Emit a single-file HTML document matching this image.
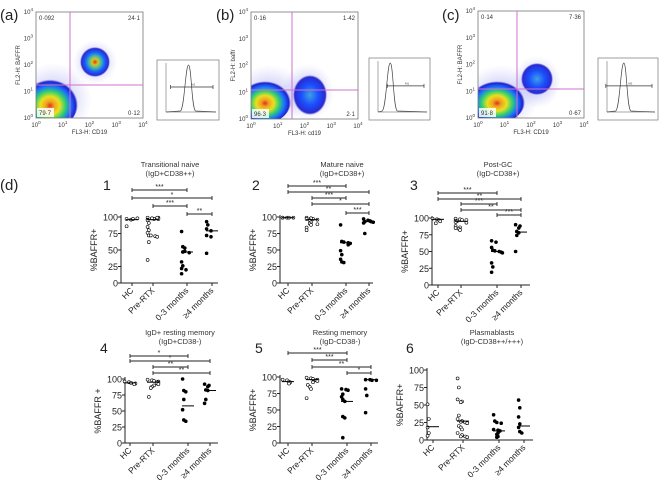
<!DOCTYPE html>
<html><head><meta charset="utf-8"><style>
html,body{margin:0;padding:0;background:#fff;}
svg{display:block;font-family:"Liberation Sans",Arial,sans-serif;}
</style></head><body>
<svg id="fig" width="662" height="480" viewBox="0 0 662 480">
<defs>
<radialGradient id="heat" cx="50%" cy="55%" r="50%">
<stop offset="0" stop-color="#e0301e"/><stop offset="0.15" stop-color="#f0a020"/><stop offset="0.35" stop-color="#e8e020"/><stop offset="0.55" stop-color="#30d070"/><stop offset="0.75" stop-color="#1a70ff"/><stop offset="0.92" stop-color="#2020d0"/><stop offset="1" stop-color="#3030d0" stop-opacity="0"/>
</radialGradient>
<radialGradient id="heat2" cx="50%" cy="50%" r="50%">
<stop offset="0" stop-color="#d04010"/><stop offset="0.2" stop-color="#e0c020"/><stop offset="0.4" stop-color="#40c0a0"/><stop offset="0.65" stop-color="#1a60ff"/><stop offset="0.9" stop-color="#2a2ad0"/><stop offset="1" stop-color="#3030d0" stop-opacity="0"/>
</radialGradient>
<radialGradient id="heat3" cx="50%" cy="50%" r="50%">
<stop offset="0" stop-color="#40a0e0"/><stop offset="0.5" stop-color="#1a50ff"/><stop offset="0.9" stop-color="#2a2ad0"/><stop offset="1" stop-color="#3030d0" stop-opacity="0"/>
</radialGradient>
<radialGradient id="haze" cx="50%" cy="50%" r="50%">
<stop offset="0" stop-color="#5050e0" stop-opacity="0.45"/><stop offset="1" stop-color="#8080f0" stop-opacity="0"/>
</radialGradient>
</defs>
</svg>
<script>
// ---------- Scatter (d) data ----------
const categories = ["HC","Pre-RTX","0-3 months","\u22654 months"];
const p1HC=[97,96,97,98,86], p1Pre=[99,98,97,99,96,98,95,97,99,91,85,80,76,72,72,71,70,62,35], p1M03=[78,55,53,47,48,46,32,26,22,20,14], p1M4=[93,88,82,79,72,70,45];
const p1Med=[96,96,47,79];
const p2HC=[99,99,99,99,99], p2Pre=[99,98,97,96,97,98,95,92,90,88,84,89,80], p2M03=[88,63,62,61,60,58,49,43,36,32,31], p2M4=[97,95,94,93,92,93,91,75];
const p2Med=[99,96,61,93];
const p3HC=[99,98,97,95,92], p3Pre=[99,98,97,97,96,95,94,93,88,86,84,82,85], p3M03=[66,64,56,52,51,50,49,48,33,27,19], p3M4=[90,88,85,80,78,74,50];
const p3Med=[98,95,50,79];
const p4HC=[96,95,94,93,92], p4Pre=[99,98,97,96,95,94,93,92,90,88,86,72], p4M03=[100,82,80,68,52,36,34], p4M4=[92,90,88,83,82,68,62];
const p4Med=[94,95,58,82];
const p5HC=[96,95,93,92,90], p5Pre=[99,98,97,96,95,94,92,88,85,82,68], p5M03=[82,81,80,74,70,66,63,40,38,8], p5M4=[96,96,95,95,82,72,46];
const p5Med=[93,96,63,96];
const p6HC=[51,30,18,10,6], p6Pre=[88,75,58,55,54,35,30,27,26,25,24,20,18,15,10,7,5,5,4], p6M03=[36,27,25,24,15,14,13,10,8,5,4], p6M4=[57,46,33,23,18,12,10];
const p6Med=[19,27,13,20];
const yTicks=[0,25,50,75,100];
const sig1=[[0,2,"***"],[0,3,"*"],[1,2,"***"],[2,3,"**"]];
const sig2=[[0,2,"***"],[0,3,"**"],[1,2,"***"],[1,3,"*"],[2,3,"***"]];
const sig3=[[0,2,"***"],[0,3,"**"],[1,2,"***"],[1,3,"**"],[2,3,"***"]];
const sig4=[[0,2,"*"],[0,3,"*"],[1,2,"**"],[1,3,"**"]];
const sig5=[[0,2,"***"],[1,2,"***"],[1,3,"**"],[2,3,"*"]];
const sig6=[];

const NS="http://www.w3.org/2000/svg";
const svg=document.getElementById('fig');
function mk(tag,attrs,parent,text){const e=document.createElementNS(NS,tag);for(const k in attrs)e.setAttribute(k,attrs[k]);if(text!==undefined)e.textContent=text;(parent||svg).appendChild(e);return e;}

const panels=[
 {num:"1",t1:"Transitional naive",t2:"(IgD+CD38++)",x0:121,x1:218,cx:[132,153,187,212],y100:217,y0:283,sigY:[190,198,206,214],groups:[p1HC,p1Pre,p1M03,p1M4],med:p1Med,sig:sig1,yl:"%BAFFR+",tx:170,ty:163,nx:103,ny:190},
 {num:"2",t1:"Mature naive",t2:"(IgD+CD38+)",x0:280,x1:373,cx:[288,312,346,369],y100:217,y0:283,sigY:[186,192,198,204,213],groups:[p2HC,p2Pre,p2M03,p2M4],med:p2Med,sig:sig2,yl:"%BAFFR+",tx:342,ty:163,nx:252,ny:190},
 {num:"3",t1:"Post-GC",t2:"(IgD-CD38+)",x0:432,x1:530,cx:[438,461,497,521],y100:218,y0:285,sigY:[193,199,204,210,215],groups:[p3HC,p3Pre,p3M03,p3M4],med:p3Med,sig:sig3,yl:"%BAFFR+",tx:498,ty:163,nx:410,ny:190},
 {num:"4",t1:"IgD+ resting memory",t2:"(IgD+CD38-)",x0:125,x1:218,cx:[130,153,188,210],y100:379,y0:443,sigY:[356,361,367,373],groups:[p4HC,p4Pre,p4M03,p4M4],med:p4Med,sig:sig4,yl:"%BAFFR +",tx:180,ty:331,nx:100,ny:353},
 {num:"5",t1:"Resting memory",t2:"(IgD-CD38-)",x0:280,x1:378,cx:[288,312,347,371],y100:377,y0:443,sigY:[353,360,367,373],groups:[p5HC,p5Pre,p5M03,p5M4],med:p5Med,sig:sig5,yl:"%BAFFR+",tx:340,ty:331,nx:255,ny:353},
 {num:"6",t1:"Plasmablasts",t2:"(IgD-CD38++/+++)",x0:427,x1:533,cx:[433,463,499,524],y100:370,y0:440,sigY:[],groups:[p6HC,p6Pre,p6M03,p6M4],med:p6Med,sig:sig6,yl:"%BAFFR+",tx:492,ty:331,nx:406,ny:353}
];

mk('text',{x:0,y:190,'font-size':15,fill:'#222',},svg,'(d)');

panels.forEach((p,pi)=>{
  const g=mk('g',{});
  
  
  const yS=v=>p.y0-(v/100)*(p.y0-p.y100);
  const n=mk('text',{x:p.nx,y:p.ny,'font-size':14,fill:'#222'},g,p.num);
  
  
  const t1=mk('text',{x:p.tx,y:p.ty+4,'font-size':7.5,'text-anchor':'middle',fill:'#333'},g,p.t1);
  
  
  const t2=mk('text',{x:p.tx,y:p.ty+13,'font-size':7.5,'text-anchor':'middle',fill:'#333'},g,p.t2);
  
  
  const ax=mk('path',{d:`M${p.x0},${p.y100-2}V${p.y0}H${p.x1}`,stroke:'#222','stroke-width':1,fill:'none'},g);
  
  
  yTicks.forEach(v=>{
    mk('line',{x1:p.x0-3,x2:p.x0,y1:yS(v),y2:yS(v),stroke:'#222'},g);
    const tl=mk('text',{x:p.x0-3,y:yS(v)+3.5,'font-size':9,'text-anchor':'end',fill:'#222'},g,String(v));
    
    
  });
  const ycx=p.x0-24, ycy=(p.y0+p.y100)/2;
  const yl=mk('text',{x:ycx,y:ycy,'font-size':9,'text-anchor':'middle',transform:`rotate(-90 ${ycx} ${ycy})`,fill:'#222'},g,p.yl);
  
  
  categories.forEach((c,i)=>{
    const x=p.cx[i];
    mk('line',{x1:x,x2:x,y1:p.y0,y2:p.y0+3,stroke:'#222'},g);
    const xl=mk('text',{x:x+2,y:p.y0+8,'font-size':8.5,'text-anchor':'end',transform:`rotate(-45 ${x+2} ${p.y0+8})`,fill:'#222'},g,c);
    
    
  });
  p.groups.forEach((arr,gi)=>{
    const open=gi<2;
    arr.forEach((v,k)=>{
      const cnt=arr.filter((w,j)=>j<k&&Math.abs(w-v)<4).length;
      const off=((cnt%4)-1.5)*3.2+ ((k%2)?1:-1)*0.6;
      const c=mk('circle',{cx:p.cx[gi]+off,cy:yS(v),r:1.5,fill:open?'#fff':'#000',stroke:'#000','stroke-width':0.6},g);
      
      
    });
    const m=mk('line',{x1:p.cx[gi]-6,x2:p.cx[gi]+6,y1:yS(p.med[gi]),y2:yS(p.med[gi]),stroke:'#000','stroke-width':1},g);
    
    
  });
  p.sig.forEach((s,si)=>{
    const y=p.sigY[si], xa=p.cx[s[0]], xb=p.cx[s[1]];
    const b=mk('path',{d:`M${xa},${y-2}V${y+2}M${xa},${y}H${xb}M${xb},${y-2}V${y+2}`,stroke:'#222','stroke-width':0.9,fill:'none'},g);
    
    
    const st=mk('text',{x:(xa+xb)/2,y:y-1,'font-size':7,'text-anchor':'middle',fill:'#222'},g,s[2]);
    
    
  });
});

// ---------- Flow cytometry panels (a)(b)(c) ----------
const flowLabels=["(a)","(b)","(c)"];
const quadA=["0\u00b7092","24\u00b71","79\u00b77","0\u00b712"];
const quadB=["0\u00b716","1\u00b742","96\u00b73","2\u00b71"];
const quadC=["0\u00b714","7\u00b736","91\u00b78","0\u00b767"];
const flows=[
 {lab:flowLabels[0],q:quadA,x0:36,x1:143,y0:12,y1:118,vx:70,hy:85,b1:[50,103,28,26],b2:[95,62,15,15],b2f:'heat2',h2:[95,62,22,22],yt:"FL2-H: BAFFR",xt:"FL3-H: CD19",hx:[157,219,60,120],peak:0.45,lx:0},
 {lab:flowLabels[1],q:quadB,x0:251,x1:358,y0:12,y1:119,vx:292,hy:90,b1:[265,101,26,22],b2:[310,95,17,20],b2f:'heat3',h2:[308,92,26,28],yt:"FL2-H: baffr",xt:"FL3-H: cd19",hx:[369,430,58,120],peak:0.25,lx:216},
 {lab:flowLabels[2],q:quadC,x0:478,x1:584,y0:11,y1:118,vx:517,hy:89,b1:[497,101,28,22],b2:[537,79,16,16],b2f:'heat3',h2:[537,82,24,26],yt:"FL2-H: BAFFR",xt:"FL3-H: CD19",hx:[598,658,58,120],peak:0.35,lx:442}
];
const expTicks=["0","1","2","3","4"];
const defs=svg.querySelector('defs');
flows.forEach((f,fi)=>{
  const cp=mk('clipPath',{id:'clip'+fi},defs);
  mk('rect',{x:f.x0,y:f.y0,width:f.x1-f.x0,height:f.y1-f.y0},cp);
  const g=mk('g',{});
  
  
  const L=mk('text',{x:f.lx,y:20,'font-size':15,fill:'#222'},g,f.lab);
  
  
  mk('rect',{x:f.x0,y:f.y0,width:f.x1-f.x0,height:f.y1-f.y0,fill:'#fff'},g);
  const cg=mk('g',{'clip-path':'url(#clip'+fi+')'},g);
  mk('ellipse',{cx:f.b1[0]+4,cy:f.b1[1]-4,rx:f.b1[2]+10,ry:f.b1[3]+10,fill:'url(#haze)'},cg);
  mk('ellipse',{cx:f.h2[0],cy:f.h2[1],rx:f.h2[2],ry:f.h2[3],fill:'url(#haze)'},cg);
  const e1=mk('ellipse',{cx:f.b1[0],cy:f.b1[1],rx:f.b1[2],ry:f.b1[3],fill:'url(#heat)'},cg);
  
  
  const e2=mk('ellipse',{cx:f.b2[0],cy:f.b2[1],rx:f.b2[2],ry:f.b2[3],fill:'url(#'+f.b2f+')'},cg);
  
  
  mk('rect',{x:f.x0,y:f.y0,width:f.x1-f.x0,height:f.y1-f.y0,fill:'none',stroke:'#777','stroke-width':0.8},g);
  mk('line',{x1:f.vx,x2:f.vx,y1:f.y0,y2:f.y1,stroke:'#d070d0','stroke-width':1},g);
  mk('line',{x1:f.x0,x2:f.x1,y1:f.hy,y2:f.hy,stroke:'#d070d0','stroke-width':1},g);
  const qpos=[[f.x0+3,f.y0+8,'start'],[f.x1-3,f.y0+8,'end'],[f.x0+3,f.y1-3,'start'],[f.x1-3,f.y1-3,'end']];
  f.q.forEach((s,i)=>{
    if(i===2) mk('rect',{x:f.x0+1,y:f.y1-10,width:17,height:9,fill:'#fff',opacity:0.85},g);
    const t=mk('text',{x:qpos[i][0],y:qpos[i][1],'font-size':6,'text-anchor':qpos[i][2],fill:'#333'},g,s);
    
    });
  expTicks.forEach((e,i)=>{
    const x=f.x0+(f.x1-f.x0)*i/4, y=f.y1-(f.y1-f.y0)*i/4;
    const tx=mk('text',{x:x,y:f.y1+9,'font-size':6,'text-anchor':'middle',fill:'#333'},g);
    tx.innerHTML='10<tspan dy="-3" font-size="4.5">'+e+'</tspan>';
    
    
    const ty=mk('text',{x:f.x0-3,y:y+2,'font-size':6,'text-anchor':'end',fill:'#333'},g);
    ty.innerHTML='10<tspan dy="-3" font-size="4.5">'+e+'</tspan>';
    
    
  });
  const xt=mk('text',{x:(f.x0+f.x1)/2,y:f.y1+16,'font-size':6,'text-anchor':'middle',fill:'#333'},g,f.xt);
  
  
  const yx=f.x0-16, yy=(f.y0+f.y1)/2;
  const yt=mk('text',{x:yx,y:yy,'font-size':6,'text-anchor':'middle',transform:`rotate(-90 ${yx} ${yy})`,fill:'#333'},g,f.yt);
  
  
  const [hx0,hx1,hy0,hy1]=f.hx;
  const hr=mk('rect',{x:hx0,y:hy0,width:hx1-hx0,height:hy1-hy0,fill:'#fff',stroke:'#777','stroke-width':0.7},g);
  
  
  const px0=hx0+9, px1=hx1-3, pb=hy1-8, pt=hy0+5;
  const pk=px0+(px1-px0)*f.peak;
  const hp=mk('path',{d:`M${px0},${pb} L${pk-8},${pb-1} C${pk-4},${pb-4} ${pk-3},${pt} ${pk},${pt} C${pk+3},${pt} ${pk+3},${pb-4} ${pk+7},${pb-1} L${px1},${pb}`,stroke:'#444','stroke-width':0.7,fill:'none'},g);
  
  
  mk('path',{d:`M${px0},${pt-2}V${pb}H${px1}`,stroke:'#555','stroke-width':0.5,fill:'none'},g);
  const gy=hy0+(hy1-hy0)*0.45;
  const gs=fi===1?pk-3:pk-18;
  mk('path',{d:`M${gs},${gy-2}V${gy+2}M${gs},${gy}H${px1-3}M${px1-3},${gy-2}V${gy+2}`,stroke:'#333','stroke-width':0.7,fill:'none'},g);
  mk('text',{x:(gs+px1)/2,y:gy-1.5,'font-size':3,'text-anchor':'middle',fill:'#444'},g,'M1');
});
</script>
</body></html>
